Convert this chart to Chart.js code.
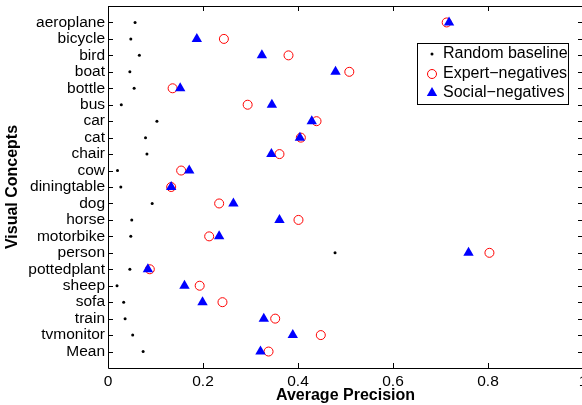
<!DOCTYPE html>
<html lang="en">
<head>
<meta charset="UTF-8">
<script src="https://cdn.jsdelivr.net/npm/chart.js"></script>
<style>
  html, body { margin: 0; padding: 0; background: #fff; overflow: hidden; }
  #wrap { width: 600px; height: 405px; }
</style>
</head>
<body>
<div id="wrap"><canvas id="myChart"></canvas></div>
<script>
const concepts = ['aeroplane', 'bicycle', 'bird', 'boat', 'bottle', 'bus', 'car', 'cat', 'chair', 'cow',
  'diningtable', 'dog', 'horse', 'motorbike', 'person', 'pottedplant', 'sheep', 'sofa', 'train', 'tvmonitor', 'Mean']
const randomBaseline = [0.057, 0.048, 0.066, 0.046, 0.055, 0.028, 0.103, 0.079, 0.082, 0.020,
  0.027, 0.093, 0.050, 0.048, 0.478, 0.046, 0.019, 0.033, 0.036, 0.052, 0.074]
const expertNegatives = [0.713, 0.244, 0.380, 0.508, 0.136, 0.294, 0.439, 0.406, 0.361, 0.154,
  0.133, 0.234, 0.401, 0.213, 0.803, 0.088, 0.193, 0.241, 0.352, 0.448, 0.338]
const socialNegatives = [0.718, 0.187, 0.324, 0.479, 0.152, 0.345, 0.429, 0.404, 0.344, 0.171,
  0.133, 0.264, 0.361, 0.234, 0.759, 0.084, 0.161, 0.199, 0.328, 0.389, 0.321]
const xTicks = [0, 0.2, 0.4, 0.6, 0.8, 1]
const seriesNames = ['Random baseline', 'Expert\u2212negatives', 'Social\u2212negatives']

const FONT = 'Liberation Sans, Arial, Helvetica, sans-serif'

function toPoints(arr) {
  return arr.map((v, i) => ({ x: v, y: i }))
}

// matlab style box with inward ticks
const framePlugin = {
  id: 'frame',
  afterDraw(chart) {
    const ctx = chart.ctx
    const a = chart.chartArea
    const xs = chart.scales.x, ys = chart.scales.y
    ctx.save()
    ctx.strokeStyle = '#000'
    ctx.lineWidth = 1
    ctx.beginPath()
    ctx.rect(Math.round(a.left) + 0.5, Math.round(a.top) + 0.5, Math.round(a.right - a.left), Math.round(a.bottom - a.top))
    ctx.stroke()
    ctx.beginPath()
    xTicks.forEach(v => {
      const px = Math.round(xs.getPixelForValue(v)) + 0.5
      ctx.moveTo(px, a.bottom); ctx.lineTo(px, a.bottom - 5)
      ctx.moveTo(px, a.top); ctx.lineTo(px, a.top + 5)
    })
    concepts.forEach((c, i) => {
      const py = Math.round(ys.getPixelForValue(i)) + 0.5
      ctx.moveTo(a.left, py); ctx.lineTo(a.left + 5, py)
      ctx.moveTo(a.right, py); ctx.lineTo(a.right - 5, py)
    })
    ctx.stroke()

    // legend box
    const lx = 417, ly = 43, lw = 151, lh = 61
    ctx.fillStyle = '#fff'
    ctx.fillRect(lx, ly, lw, lh)
    ctx.strokeRect(lx + 0.5, ly + 0.5, lw, lh)
    const rows = [54, 74, 93]
    const sx = 432
    // dot
    ctx.fillStyle = '#000'
    ctx.beginPath(); ctx.arc(sx, rows[0], 1.5, 0, Math.PI * 2); ctx.fill()
    // circle
    ctx.strokeStyle = '#ff0000'
    ctx.beginPath(); ctx.arc(sx, rows[1], 4.5, 0, Math.PI * 2); ctx.stroke()
    // triangle
    ctx.fillStyle = '#0000ff'
    const r = 6
    ctx.beginPath()
    ctx.moveTo(sx, rows[2] - r)
    ctx.lineTo(sx + r * Math.sin(Math.PI * 2 / 3), rows[2] - r * Math.cos(Math.PI * 2 / 3))
    ctx.lineTo(sx - r * Math.sin(Math.PI * 2 / 3), rows[2] - r * Math.cos(Math.PI * 2 / 3))
    ctx.closePath(); ctx.fill()
    ctx.fillStyle = '#000'
    ctx.font = '16px ' + FONT
    ctx.textBaseline = 'middle'
    ctx.textAlign = 'left'
    seriesNames.forEach((n, i) => ctx.fillText(n, 443, rows[i]))
    ctx.restore()
  }
}

const ctx = document.getElementById('myChart')
new Chart(ctx, {
  type: 'scatter',
  data: {
    datasets: [
      { label: seriesNames[0], data: toPoints(randomBaseline), pointStyle: 'circle', pointRadius: 1.5,
        backgroundColor: '#000', borderColor: '#000', borderWidth: 0, order: 2 },
      { label: seriesNames[1], data: toPoints(expertNegatives), pointStyle: 'circle', pointRadius: 4.5,
        backgroundColor: 'rgba(0,0,0,0)', borderColor: '#ff0000', borderWidth: 1, order: 1 },
      { label: seriesNames[2], data: toPoints(socialNegatives), pointStyle: 'triangle', pointRadius: 6,
        backgroundColor: '#0000ff', borderColor: '#0000ff', borderWidth: 0, order: 0 }
    ]
  },
  options: {
    responsive: true,
    maintainAspectRatio: false,
    animation: false,
    layout: { padding: { top: 6, right: 17, bottom: 0, left: 0 } },
    plugins: { legend: { display: false }, tooltip: { enabled: false } },
    scales: {
      x: {
        type: 'linear', min: 0, max: 1, position: 'bottom',
        afterBuildTicks: s => { s.ticks = xTicks.map(v => ({ value: v })) },
        afterFit: s => { s.height = 37; s.paddingLeft = 0; s.paddingRight = 0 },
        ticks: { callback: v => v.toString(), font: { family: FONT, size: 15.5 }, color: '#000',
          padding: 4, maxRotation: 0, autoSkip: false },
        grid: { display: false, drawTicks: false },
        border: { display: false },
        title: { display: true, text: 'Average Precision', color: '#000',
          font: { family: FONT, size: 16, weight: 'bold' }, padding: { top: 0, bottom: 0 } }
      },
      y: {
        type: 'linear', min: -1, max: 21, reverse: true,
        afterBuildTicks: s => { s.ticks = concepts.map((c, i) => ({ value: i })) },
        afterFit: s => { s.width = 108; s.paddingTop = 0; s.paddingBottom = 0 },
        ticks: { callback: v => concepts[v], font: { family: FONT, size: 15.5 }, color: '#000',
          padding: 3, autoSkip: false },
        grid: { display: false, drawTicks: false },
        border: { display: false },
        title: { display: true, text: 'Visual Concepts', color: '#000',
          font: { family: FONT, size: 16, weight: 'bold' }, padding: { top: 3, bottom: 0 } }
      }
    }
  },
  plugins: [framePlugin]
})
</script>
</body>
</html>
